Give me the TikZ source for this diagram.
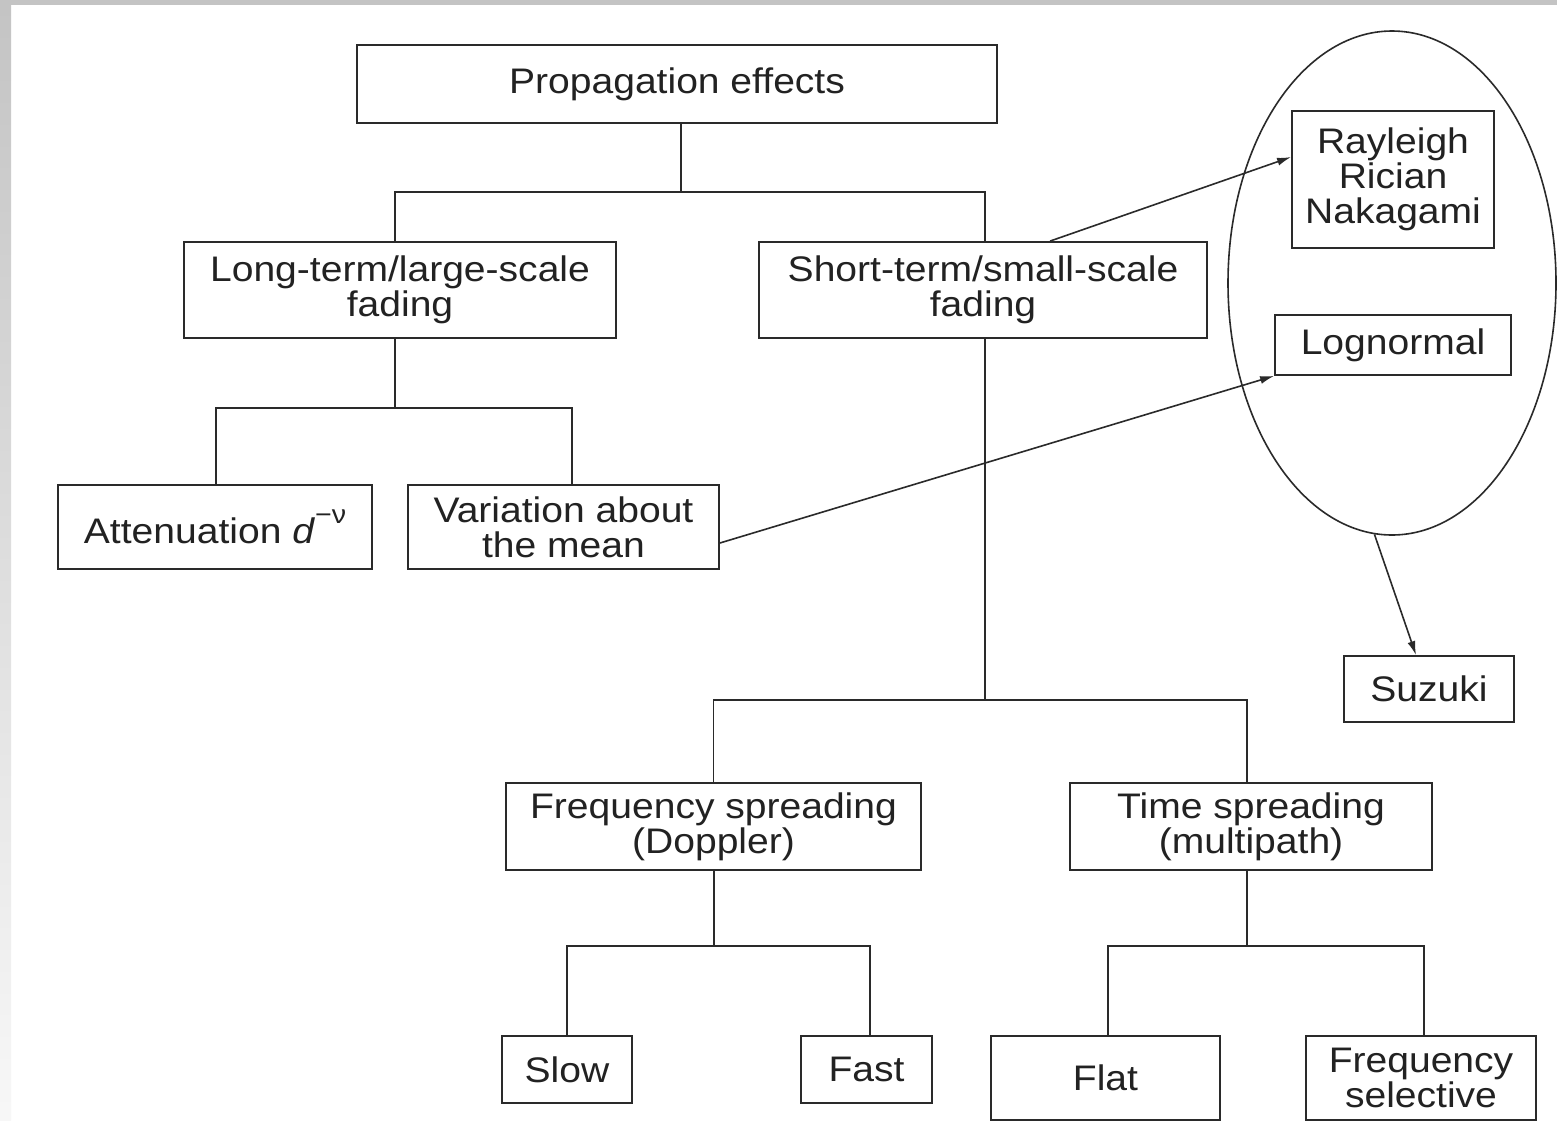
\documentclass[tikz,border=0pt]{standalone}
\usepackage{fontspec}
\setmainfont{Liberation Sans}[FakeStretch=1.1]
\usetikzlibrary{shapes.geometric,arrows.meta}
\definecolor{ink}{HTML}{2A2A2A}
\definecolor{txt}{HTML}{222222}
\definecolor{frame}{HTML}{C4C4C4}
\begin{document}
\begin{tikzpicture}[x=1pt,y=-1pt,
  box/.style={draw=ink, line width=1.8pt, rectangle, inner sep=0pt, align=center,
    text=txt, font=\fontsize{35.5}{35}\selectfont},
  link/.style={draw=ink, line width=1.8pt},
  arr/.style={draw=ink, line width=1.6pt, -{Latex[length=14pt,width=8pt]}}]
% background and frame
\useasboundingbox (0,0) rectangle (1557,1120);
\fill[white] (0,0) rectangle (1557,1120);
\fill[frame] (0,0) rectangle (1557,5);
\shade[top color=frame, bottom color=white!97!black] (0,5) rectangle (11,1120);
% nodes
\node[box, minimum width=640, minimum height=78] (prop) at (677,84) {Propagation effects};
\node[box, minimum width=432, minimum height=96] (long) at (400,290) {Long-term/large-scale\\fading};
\node[box, minimum width=448, minimum height=96] (short) at (983,290) {Short-term/small-scale\\fading};
\node[box, minimum width=314, minimum height=84] (att) at (215,527) {Attenuation \textit{d}\raisebox{0.55em}{\fontsize{26}{26}\selectfont −ν}};
\node[box, minimum width=311, minimum height=84] (var) at (563.5,527) {Variation about\\the mean};
\node[box, minimum width=415, minimum height=87] (freq) at (713.5,826.5) {Frequency spreading\\(Doppler)};
\node[box, minimum width=362, minimum height=87] (time) at (1251,826.5) {Time spreading\\(multipath)};
\node[box, minimum width=130, minimum height=67] (slow) at (567,1069.5) {Slow};
\node[box, minimum width=131, minimum height=67] (fast) at (866.5,1069.5) {Fast};
\node[box, minimum width=229, minimum height=84] (flat) at (1105.5,1078) {Flat};
\node[box, minimum width=230, minimum height=84] (fsel) at (1421,1078) {Frequency\\selective};
\node[box, minimum width=202, minimum height=137] (ray) at (1393,179.5) {Rayleigh\\Rician\\Nakagami};
\node[box, minimum width=236, minimum height=60] (logn) at (1393,345) {Lognormal};
\node[box, minimum width=170, minimum height=66] (suz) at (1429,689) {Suzuki};
\node[draw=ink, line width=1.6pt, ellipse, inner sep=0pt, minimum width=328, minimum height=504] (ell) at (1392,283) {};
% tree junctions
\coordinate (j1) at (681,192);
\coordinate (j2) at (395,408);
\coordinate (j3) at (985,700);
\coordinate (j4) at (714,946);
\coordinate (j5) at (1247,946);
% tree connectors
\draw[link] (j1 |- prop.south) -- (j1);
\draw[link] ([xshift=-5pt]long.north) |- (j1) -| ([xshift=2pt]short.north);
\draw[link] (j2 |- long.south) -- (j2);
\draw[link] ([xshift=1pt]att.north) |- (j2) -| ([xshift=8.5pt]var.north);
\draw[link] (j3 |- short.south) -- (j3);
\draw[link] (freq.north) |- (j3) -| ([xshift=-4pt]time.north);
\draw[link] (j4 |- freq.south) -- (j4);
\draw[link] (slow.north) |- (j4) -| ([xshift=3.5pt]fast.north);
\draw[link] (j5 |- time.south) -- (j5);
\draw[link] ([xshift=2.5pt]flat.north) |- (j5) -| ([xshift=3pt]fsel.north);
% arrows
\draw[arr] ([xshift=67pt]short.north) -- ([yshift=22.5pt]ray.west);
\draw[arr] ([yshift=-16pt]var.east) -- (logn.south west);
\draw[arr] (ell.266) -- ([xshift=-13pt]suz.north);
\end{tikzpicture}
\end{document}
